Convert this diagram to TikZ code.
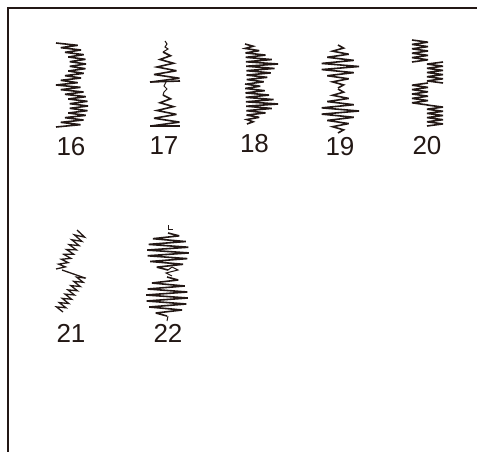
\documentclass[tikz,border=0pt]{standalone}
\usepackage{fontspec}
\setmainfont{Liberation Sans}
\definecolor{ink}{HTML}{231815}
\newcommand{\zz}[5]{% y0 y1 n left right
  \draw[stitch] plot[samples at={0,...,#3},variable=\i]
   ({ifthenelse(mod(\i,2)==0,#4,#5)},{#1+(#2-#1)*\i/#3});}
\tikzset{
  stitch/.style={ink,line width=1.6pt,line join=miter,miter limit=5},
  numlabel/.style={ink,font=\fontsize{26}{26}\selectfont,anchor=base,inner sep=0pt},
  frameline/.style={ink,line width=1.5pt},
  declare function={
    bump(\u)=sin(180*\u);
    tri(\u)=1-abs(2*\u-1);
    circ(\u)=sqrt(max(0,1-(2*\u-1)*(2*\u-1)));
  }
}
\begin{document}
\begin{tikzpicture}[x=1pt,y=-1pt]
\useasboundingbox (0,0) rectangle (477,452);
\coordinate (fa) at (477,8); \coordinate (fb) at (8,8); \coordinate (fc) at (8,452);
\draw[frameline] (fa) -- (fb) -- (fc);
% 16
\zz{43}{85}{18}{56+14*bump(\i/18)}{76+10*bump(\i/18)}
\zz{85}{127}{18}{56+14*bump(\i/18)}{79+9*bump(\i/18)}
% 17
\zz{52}{82}{8}{166-3-12*(\i/8)}{166+3+12*(\i/8)}
\zz{95}{126}{8}{166-3-12*(\i/8)}{166+3+12*(\i/8)}
\draw[stitch,line width=1pt] (165,41) -- (167,44) -- (165,47) -- (168,49) -- (163,52);
\draw[stitch] (150,82) -- (180,81);
\draw[stitch,line width=1pt] (166,82) -- (164,86) -- (167,89) -- (164,92) -- (163,95);
\draw[stitch] (150,126) -- (180,126);
% 18
\zz{44}{84}{18}{245+2*(\i/18)}{(\i/18<0.5 ? 250+56*(\i/18) : 278-32*(\i/18-0.5))}
\zz{84}{124}{18}{245+2*(\i/18)}{(\i/18<0.5 ? 258+40*(\i/18) : 278-56*(\i/18-0.5))}
% 19
\zz{45}{88}{14}{340-19*tri(\i/14)-2}{340+18*tri(\i/14)+1}
\zz{89}{133}{14}{340-19*tri(\i/14)-2}{340+18*tri(\i/14)+1}
% 20
\zz{40}{62}{10}{412}{428}
\zz{62}{83}{10}{443}{427}
\zz{83}{105}{10}{428}{412}
\zz{105}{126}{10}{427}{443}
% 21
\draw[stitch,line width=1.3pt] plot[samples at={0,...,16},variable=\i]
  ({ifthenelse(mod(\i,2)==0,77-21*\i/16,86-22*\i/16)},{ifthenelse(mod(\i,2)==0,230+39*\i/16,235+34*\i/16)});
\draw[stitch,line width=1.3pt] (62,270) -- (85,278);
\draw[stitch,line width=1.3pt] plot[samples at={0,...,16},variable=\i]
  ({ifthenelse(mod(\i,2)==0,86-23*\i/16,78-23*\i/16)},{ifthenelse(mod(\i,2)==0,278+34*\i/16,275+34*\i/16)});
% 22
\zz{233}{270}{13}{168-21*circ(\i/13)}{168+21*circ(\i/13)}
\zz{277}{316}{13}{167-21*circ(\i/13)}{167+21*circ(\i/13)}
\draw[stitch,line width=1pt] (168,225) -- (168,229) -- (173,229);
\draw[stitch,line width=1pt] (168,270) -- (172,267) -- (178,270) -- (166,273) -- (172,276);
\draw[stitch,line width=1pt] (168,316) -- (167,321);
% labels
\node[numlabel] (n16) at (71,155) {16};
\node[numlabel] (n17) at (164,154) {17};
\node[numlabel] (n18) at (254.5,153) {18};
\node[numlabel] (n19) at (340,155) {19};
\node[numlabel] (n20) at (427,154) {20};
\node[numlabel] (n21) at (71,342) {21};
\node[numlabel] (n22) at (168,342) {22};
\end{tikzpicture}
\end{document}
